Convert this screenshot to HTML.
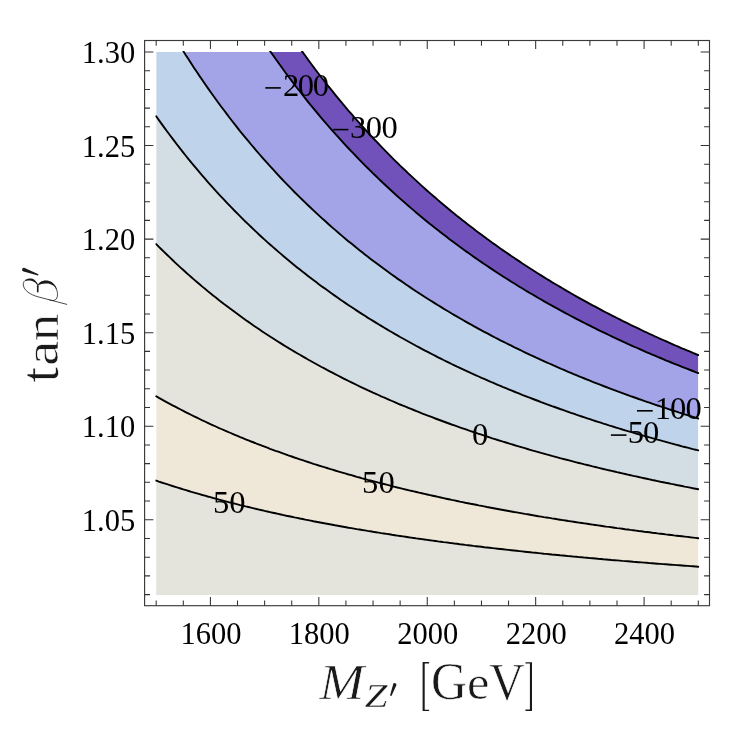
<!DOCTYPE html>
<html><head><meta charset="utf-8"><title>Contour plot</title>
<style>
html,body{margin:0;padding:0;background:#fff;}
body{width:747px;height:741px;overflow:hidden;font-family:"Liberation Serif",serif;}
svg{display:block;position:absolute;left:0;top:0;will-change:transform;}
svg text{font-family:"Liberation Serif",serif;}
</style></head><body>
<svg width="747" height="741" viewBox="0 0 747 741">
<defs><clipPath id="pc"><rect x="156.2" y="52.0" width="542.1" height="543.0"/></clipPath><clipPath id="lc"><rect x="155.2" y="51.0" width="544.1" height="544.6"/></clipPath></defs>
<rect x="0" y="0" width="747" height="741" fill="#fff"/>
<g clip-path="url(#pc)">
<path d="M151.2,599.6 L703.3,599.6 L698.3,566.7 L695.6,566.5 L692.9,566.3 L690.2,566.1 L687.5,565.9 L684.7,565.7 L682.0,565.5 L679.3,565.3 L676.6,565.1 L673.9,564.9 L671.2,564.7 L668.5,564.5 L665.8,564.3 L663.1,564.1 L660.4,563.9 L657.6,563.7 L654.9,563.5 L652.2,563.3 L649.5,563.1 L646.8,562.8 L644.1,562.6 L641.4,562.4 L638.7,562.2 L636.0,562.0 L633.2,561.8 L630.5,561.5 L627.8,561.3 L625.1,561.1 L622.4,560.9 L619.7,560.6 L617.0,560.4 L614.3,560.2 L611.6,560.0 L608.9,559.7 L606.1,559.5 L603.4,559.3 L600.7,559.0 L598.0,558.8 L595.3,558.5 L592.6,558.3 L589.9,558.1 L587.2,557.8 L584.5,557.6 L581.7,557.3 L579.0,557.1 L576.3,556.8 L573.6,556.6 L570.9,556.3 L568.2,556.1 L565.5,555.8 L562.8,555.5 L560.1,555.3 L557.4,555.0 L554.6,554.7 L551.9,554.5 L549.2,554.2 L546.5,553.9 L543.8,553.7 L541.1,553.4 L538.4,553.1 L535.7,552.8 L533.0,552.6 L530.2,552.3 L527.5,552.0 L524.8,551.7 L522.1,551.4 L519.4,551.1 L516.7,550.8 L514.0,550.5 L511.3,550.2 L508.6,549.9 L505.9,549.6 L503.1,549.3 L500.4,549.0 L497.7,548.7 L495.0,548.4 L492.3,548.1 L489.6,547.8 L486.9,547.5 L484.2,547.2 L481.5,546.8 L478.7,546.5 L476.0,546.2 L473.3,545.9 L470.6,545.5 L467.9,545.2 L465.2,544.9 L462.5,544.5 L459.8,544.2 L457.1,543.8 L454.4,543.5 L451.6,543.1 L448.9,542.8 L446.2,542.4 L443.5,542.1 L440.8,541.7 L438.1,541.4 L435.4,541.0 L432.7,540.6 L430.0,540.3 L427.2,539.9 L424.5,539.5 L421.8,539.1 L419.1,538.7 L416.4,538.4 L413.7,538.0 L411.0,537.6 L408.3,537.2 L405.6,536.8 L402.9,536.4 L400.1,536.0 L397.4,535.6 L394.7,535.2 L392.0,534.8 L389.3,534.3 L386.6,533.9 L383.9,533.5 L381.2,533.1 L378.5,532.6 L375.8,532.2 L373.0,531.8 L370.3,531.3 L367.6,530.9 L364.9,530.4 L362.2,530.0 L359.5,529.5 L356.8,529.1 L354.1,528.6 L351.4,528.1 L348.6,527.7 L345.9,527.2 L343.2,526.7 L340.5,526.2 L337.8,525.7 L335.1,525.3 L332.4,524.8 L329.7,524.3 L327.0,523.8 L324.3,523.3 L321.5,522.7 L318.8,522.2 L316.1,521.7 L313.4,521.2 L310.7,520.6 L308.0,520.1 L305.3,519.6 L302.6,519.0 L299.9,518.5 L297.1,517.9 L294.4,517.4 L291.7,516.8 L289.0,516.2 L286.3,515.7 L283.6,515.1 L280.9,514.5 L278.2,513.9 L275.5,513.3 L272.8,512.7 L270.0,512.1 L267.3,511.5 L264.6,510.9 L261.9,510.2 L259.2,509.6 L256.5,509.0 L253.8,508.3 L251.1,507.7 L248.4,507.0 L245.6,506.4 L242.9,505.7 L240.2,505.1 L237.5,504.4 L234.8,503.7 L232.1,503.0 L229.4,502.3 L226.7,501.6 L224.0,500.9 L221.3,500.2 L218.5,499.5 L215.8,498.7 L213.1,498.0 L210.4,497.2 L207.7,496.5 L205.0,495.7 L202.3,495.0 L199.6,494.2 L196.9,493.4 L194.1,492.6 L191.4,491.8 L188.7,491.0 L186.0,490.2 L183.3,489.4 L180.6,488.5 L177.9,487.7 L175.2,486.8 L172.5,486.0 L169.8,485.1 L167.0,484.2 L164.3,483.3 L161.6,482.5 L158.9,481.6 L156.2,480.6 Z" fill="#e4e4dc"/>
<path d="M156.2,480.6 L158.9,481.6 L161.6,482.5 L164.3,483.3 L167.0,484.2 L169.8,485.1 L172.5,486.0 L175.2,486.8 L177.9,487.7 L180.6,488.5 L183.3,489.4 L186.0,490.2 L188.7,491.0 L191.4,491.8 L194.1,492.6 L196.9,493.4 L199.6,494.2 L202.3,495.0 L205.0,495.7 L207.7,496.5 L210.4,497.2 L213.1,498.0 L215.8,498.7 L218.5,499.5 L221.3,500.2 L224.0,500.9 L226.7,501.6 L229.4,502.3 L232.1,503.0 L234.8,503.7 L237.5,504.4 L240.2,505.1 L242.9,505.7 L245.6,506.4 L248.4,507.0 L251.1,507.7 L253.8,508.3 L256.5,509.0 L259.2,509.6 L261.9,510.2 L264.6,510.9 L267.3,511.5 L270.0,512.1 L272.8,512.7 L275.5,513.3 L278.2,513.9 L280.9,514.5 L283.6,515.1 L286.3,515.7 L289.0,516.2 L291.7,516.8 L294.4,517.4 L297.1,517.9 L299.9,518.5 L302.6,519.0 L305.3,519.6 L308.0,520.1 L310.7,520.6 L313.4,521.2 L316.1,521.7 L318.8,522.2 L321.5,522.7 L324.3,523.3 L327.0,523.8 L329.7,524.3 L332.4,524.8 L335.1,525.3 L337.8,525.7 L340.5,526.2 L343.2,526.7 L345.9,527.2 L348.6,527.7 L351.4,528.1 L354.1,528.6 L356.8,529.1 L359.5,529.5 L362.2,530.0 L364.9,530.4 L367.6,530.9 L370.3,531.3 L373.0,531.8 L375.8,532.2 L378.5,532.6 L381.2,533.1 L383.9,533.5 L386.6,533.9 L389.3,534.3 L392.0,534.8 L394.7,535.2 L397.4,535.6 L400.1,536.0 L402.9,536.4 L405.6,536.8 L408.3,537.2 L411.0,537.6 L413.7,538.0 L416.4,538.4 L419.1,538.7 L421.8,539.1 L424.5,539.5 L427.2,539.9 L430.0,540.3 L432.7,540.6 L435.4,541.0 L438.1,541.4 L440.8,541.7 L443.5,542.1 L446.2,542.4 L448.9,542.8 L451.6,543.1 L454.4,543.5 L457.1,543.8 L459.8,544.2 L462.5,544.5 L465.2,544.9 L467.9,545.2 L470.6,545.5 L473.3,545.9 L476.0,546.2 L478.7,546.5 L481.5,546.8 L484.2,547.2 L486.9,547.5 L489.6,547.8 L492.3,548.1 L495.0,548.4 L497.7,548.7 L500.4,549.0 L503.1,549.3 L505.9,549.6 L508.6,549.9 L511.3,550.2 L514.0,550.5 L516.7,550.8 L519.4,551.1 L522.1,551.4 L524.8,551.7 L527.5,552.0 L530.2,552.3 L533.0,552.6 L535.7,552.8 L538.4,553.1 L541.1,553.4 L543.8,553.7 L546.5,553.9 L549.2,554.2 L551.9,554.5 L554.6,554.7 L557.4,555.0 L560.1,555.3 L562.8,555.5 L565.5,555.8 L568.2,556.1 L570.9,556.3 L573.6,556.6 L576.3,556.8 L579.0,557.1 L581.7,557.3 L584.5,557.6 L587.2,557.8 L589.9,558.1 L592.6,558.3 L595.3,558.5 L598.0,558.8 L600.7,559.0 L603.4,559.3 L606.1,559.5 L608.9,559.7 L611.6,560.0 L614.3,560.2 L617.0,560.4 L619.7,560.6 L622.4,560.9 L625.1,561.1 L627.8,561.3 L630.5,561.5 L633.2,561.8 L636.0,562.0 L638.7,562.2 L641.4,562.4 L644.1,562.6 L646.8,562.8 L649.5,563.1 L652.2,563.3 L654.9,563.5 L657.6,563.7 L660.4,563.9 L663.1,564.1 L665.8,564.3 L668.5,564.5 L671.2,564.7 L673.9,564.9 L676.6,565.1 L679.3,565.3 L682.0,565.5 L684.7,565.7 L687.5,565.9 L690.2,566.1 L692.9,566.3 L695.6,566.5 L698.3,566.7 L698.3,538.2 L695.6,537.9 L692.9,537.6 L690.2,537.3 L687.5,536.9 L684.7,536.6 L682.0,536.3 L679.3,536.0 L676.6,535.7 L673.9,535.4 L671.2,535.0 L668.5,534.7 L665.8,534.4 L663.1,534.0 L660.4,533.7 L657.6,533.4 L654.9,533.0 L652.2,532.7 L649.5,532.3 L646.8,532.0 L644.1,531.7 L641.4,531.3 L638.7,531.0 L636.0,530.6 L633.2,530.2 L630.5,529.9 L627.8,529.5 L625.1,529.2 L622.4,528.8 L619.7,528.4 L617.0,528.1 L614.3,527.7 L611.6,527.3 L608.9,526.9 L606.1,526.6 L603.4,526.2 L600.7,525.8 L598.0,525.4 L595.3,525.0 L592.6,524.6 L589.9,524.2 L587.2,523.8 L584.5,523.4 L581.7,523.0 L579.0,522.6 L576.3,522.2 L573.6,521.8 L570.9,521.4 L568.2,521.0 L565.5,520.5 L562.8,520.1 L560.1,519.7 L557.4,519.3 L554.6,518.8 L551.9,518.4 L549.2,517.9 L546.5,517.5 L543.8,517.1 L541.1,516.6 L538.4,516.2 L535.7,515.7 L533.0,515.3 L530.2,514.8 L527.5,514.3 L524.8,513.9 L522.1,513.4 L519.4,512.9 L516.7,512.4 L514.0,512.0 L511.3,511.5 L508.6,511.0 L505.9,510.5 L503.1,510.0 L500.4,509.5 L497.7,509.0 L495.0,508.5 L492.3,508.0 L489.6,507.5 L486.9,507.0 L484.2,506.4 L481.5,505.9 L478.7,505.4 L476.0,504.8 L473.3,504.3 L470.6,503.8 L467.9,503.2 L465.2,502.7 L462.5,502.1 L459.8,501.6 L457.1,501.0 L454.4,500.4 L451.6,499.9 L448.9,499.3 L446.2,498.7 L443.5,498.1 L440.8,497.5 L438.1,496.9 L435.4,496.3 L432.7,495.7 L430.0,495.1 L427.2,494.5 L424.5,493.9 L421.8,493.3 L419.1,492.7 L416.4,492.0 L413.7,491.4 L411.0,490.8 L408.3,490.1 L405.6,489.5 L402.9,488.8 L400.1,488.1 L397.4,487.5 L394.7,486.8 L392.0,486.1 L389.3,485.4 L386.6,484.7 L383.9,484.0 L381.2,483.3 L378.5,482.6 L375.8,481.9 L373.0,481.2 L370.3,480.5 L367.6,479.8 L364.9,479.0 L362.2,478.3 L359.5,477.5 L356.8,476.8 L354.1,476.0 L351.4,475.2 L348.6,474.5 L345.9,473.7 L343.2,472.9 L340.5,472.1 L337.8,471.3 L335.1,470.5 L332.4,469.7 L329.7,468.9 L327.0,468.0 L324.3,467.2 L321.5,466.3 L318.8,465.5 L316.1,464.6 L313.4,463.8 L310.7,462.9 L308.0,462.0 L305.3,461.1 L302.6,460.2 L299.9,459.3 L297.1,458.4 L294.4,457.5 L291.7,456.5 L289.0,455.6 L286.3,454.6 L283.6,453.7 L280.9,452.7 L278.2,451.7 L275.5,450.8 L272.8,449.8 L270.0,448.8 L267.3,447.7 L264.6,446.7 L261.9,445.7 L259.2,444.6 L256.5,443.6 L253.8,442.5 L251.1,441.5 L248.4,440.4 L245.6,439.3 L242.9,438.2 L240.2,437.1 L237.5,435.9 L234.8,434.8 L232.1,433.7 L229.4,432.5 L226.7,431.3 L224.0,430.2 L221.3,429.0 L218.5,427.8 L215.8,426.5 L213.1,425.3 L210.4,424.1 L207.7,422.8 L205.0,421.5 L202.3,420.3 L199.6,419.0 L196.9,417.7 L194.1,416.3 L191.4,415.0 L188.7,413.7 L186.0,412.3 L183.3,410.9 L180.6,409.5 L177.9,408.1 L175.2,406.7 L172.5,405.3 L169.8,403.8 L167.0,402.3 L164.3,400.9 L161.6,399.4 L158.9,397.9 L156.2,396.3 Z" fill="#efe8d8"/>
<path d="M156.2,396.3 L158.9,397.9 L161.6,399.4 L164.3,400.9 L167.0,402.3 L169.8,403.8 L172.5,405.3 L175.2,406.7 L177.9,408.1 L180.6,409.5 L183.3,410.9 L186.0,412.3 L188.7,413.7 L191.4,415.0 L194.1,416.3 L196.9,417.7 L199.6,419.0 L202.3,420.3 L205.0,421.5 L207.7,422.8 L210.4,424.1 L213.1,425.3 L215.8,426.5 L218.5,427.8 L221.3,429.0 L224.0,430.2 L226.7,431.3 L229.4,432.5 L232.1,433.7 L234.8,434.8 L237.5,435.9 L240.2,437.1 L242.9,438.2 L245.6,439.3 L248.4,440.4 L251.1,441.5 L253.8,442.5 L256.5,443.6 L259.2,444.6 L261.9,445.7 L264.6,446.7 L267.3,447.7 L270.0,448.8 L272.8,449.8 L275.5,450.8 L278.2,451.7 L280.9,452.7 L283.6,453.7 L286.3,454.6 L289.0,455.6 L291.7,456.5 L294.4,457.5 L297.1,458.4 L299.9,459.3 L302.6,460.2 L305.3,461.1 L308.0,462.0 L310.7,462.9 L313.4,463.8 L316.1,464.6 L318.8,465.5 L321.5,466.3 L324.3,467.2 L327.0,468.0 L329.7,468.9 L332.4,469.7 L335.1,470.5 L337.8,471.3 L340.5,472.1 L343.2,472.9 L345.9,473.7 L348.6,474.5 L351.4,475.2 L354.1,476.0 L356.8,476.8 L359.5,477.5 L362.2,478.3 L364.9,479.0 L367.6,479.8 L370.3,480.5 L373.0,481.2 L375.8,481.9 L378.5,482.6 L381.2,483.3 L383.9,484.0 L386.6,484.7 L389.3,485.4 L392.0,486.1 L394.7,486.8 L397.4,487.5 L400.1,488.1 L402.9,488.8 L405.6,489.5 L408.3,490.1 L411.0,490.8 L413.7,491.4 L416.4,492.0 L419.1,492.7 L421.8,493.3 L424.5,493.9 L427.2,494.5 L430.0,495.1 L432.7,495.7 L435.4,496.3 L438.1,496.9 L440.8,497.5 L443.5,498.1 L446.2,498.7 L448.9,499.3 L451.6,499.9 L454.4,500.4 L457.1,501.0 L459.8,501.6 L462.5,502.1 L465.2,502.7 L467.9,503.2 L470.6,503.8 L473.3,504.3 L476.0,504.8 L478.7,505.4 L481.5,505.9 L484.2,506.4 L486.9,507.0 L489.6,507.5 L492.3,508.0 L495.0,508.5 L497.7,509.0 L500.4,509.5 L503.1,510.0 L505.9,510.5 L508.6,511.0 L511.3,511.5 L514.0,512.0 L516.7,512.4 L519.4,512.9 L522.1,513.4 L524.8,513.9 L527.5,514.3 L530.2,514.8 L533.0,515.3 L535.7,515.7 L538.4,516.2 L541.1,516.6 L543.8,517.1 L546.5,517.5 L549.2,517.9 L551.9,518.4 L554.6,518.8 L557.4,519.3 L560.1,519.7 L562.8,520.1 L565.5,520.5 L568.2,521.0 L570.9,521.4 L573.6,521.8 L576.3,522.2 L579.0,522.6 L581.7,523.0 L584.5,523.4 L587.2,523.8 L589.9,524.2 L592.6,524.6 L595.3,525.0 L598.0,525.4 L600.7,525.8 L603.4,526.2 L606.1,526.6 L608.9,526.9 L611.6,527.3 L614.3,527.7 L617.0,528.1 L619.7,528.4 L622.4,528.8 L625.1,529.2 L627.8,529.5 L630.5,529.9 L633.2,530.2 L636.0,530.6 L638.7,531.0 L641.4,531.3 L644.1,531.7 L646.8,532.0 L649.5,532.3 L652.2,532.7 L654.9,533.0 L657.6,533.4 L660.4,533.7 L663.1,534.0 L665.8,534.4 L668.5,534.7 L671.2,535.0 L673.9,535.4 L676.6,535.7 L679.3,536.0 L682.0,536.3 L684.7,536.6 L687.5,536.9 L690.2,537.3 L692.9,537.6 L695.6,537.9 L698.3,538.2 L698.3,489.2 L695.6,488.7 L692.9,488.2 L690.2,487.6 L687.5,487.1 L684.7,486.6 L682.0,486.0 L679.3,485.5 L676.6,485.0 L673.9,484.4 L671.2,483.9 L668.5,483.3 L665.8,482.8 L663.1,482.2 L660.4,481.7 L657.6,481.1 L654.9,480.5 L652.2,480.0 L649.5,479.4 L646.8,478.8 L644.1,478.2 L641.4,477.6 L638.7,477.0 L636.0,476.4 L633.2,475.9 L630.5,475.2 L627.8,474.6 L625.1,474.0 L622.4,473.4 L619.7,472.8 L617.0,472.2 L614.3,471.5 L611.6,470.9 L608.9,470.3 L606.1,469.6 L603.4,469.0 L600.7,468.3 L598.0,467.7 L595.3,467.0 L592.6,466.4 L589.9,465.7 L587.2,465.0 L584.5,464.4 L581.7,463.7 L579.0,463.0 L576.3,462.3 L573.6,461.6 L570.9,460.9 L568.2,460.2 L565.5,459.5 L562.8,458.8 L560.1,458.1 L557.4,457.3 L554.6,456.6 L551.9,455.9 L549.2,455.1 L546.5,454.4 L543.8,453.6 L541.1,452.9 L538.4,452.1 L535.7,451.3 L533.0,450.6 L530.2,449.8 L527.5,449.0 L524.8,448.2 L522.1,447.4 L519.4,446.6 L516.7,445.8 L514.0,445.0 L511.3,444.2 L508.6,443.3 L505.9,442.5 L503.1,441.7 L500.4,440.8 L497.7,440.0 L495.0,439.1 L492.3,438.3 L489.6,437.4 L486.9,436.5 L484.2,435.6 L481.5,434.7 L478.7,433.8 L476.0,432.9 L473.3,432.0 L470.6,431.1 L467.9,430.2 L465.2,429.2 L462.5,428.3 L459.8,427.4 L457.1,426.4 L454.4,425.4 L451.6,424.5 L448.9,423.5 L446.2,422.5 L443.5,421.5 L440.8,420.5 L438.1,419.5 L435.4,418.5 L432.7,417.4 L430.0,416.4 L427.2,415.4 L424.5,414.3 L421.8,413.3 L419.1,412.2 L416.4,411.1 L413.7,410.0 L411.0,408.9 L408.3,407.8 L405.6,406.7 L402.9,405.6 L400.1,404.5 L397.4,403.3 L394.7,402.2 L392.0,401.0 L389.3,399.8 L386.6,398.6 L383.9,397.5 L381.2,396.3 L378.5,395.0 L375.8,393.8 L373.0,392.6 L370.3,391.3 L367.6,390.1 L364.9,388.8 L362.2,387.6 L359.5,386.3 L356.8,385.0 L354.1,383.7 L351.4,382.3 L348.6,381.0 L345.9,379.7 L343.2,378.3 L340.5,376.9 L337.8,375.5 L335.1,374.2 L332.4,372.7 L329.7,371.3 L327.0,369.9 L324.3,368.4 L321.5,367.0 L318.8,365.5 L316.1,364.0 L313.4,362.5 L310.7,361.0 L308.0,359.5 L305.3,357.9 L302.6,356.4 L299.9,354.8 L297.1,353.2 L294.4,351.6 L291.7,350.0 L289.0,348.4 L286.3,346.7 L283.6,345.1 L280.9,343.4 L278.2,341.7 L275.5,340.0 L272.8,338.3 L270.0,336.5 L267.3,334.7 L264.6,333.0 L261.9,331.2 L259.2,329.3 L256.5,327.5 L253.8,325.7 L251.1,323.8 L248.4,321.9 L245.6,320.0 L242.9,318.1 L240.2,316.1 L237.5,314.1 L234.8,312.1 L232.1,310.1 L229.4,308.1 L226.7,306.0 L224.0,304.0 L221.3,301.9 L218.5,299.8 L215.8,297.6 L213.1,295.5 L210.4,293.3 L207.7,291.1 L205.0,288.8 L202.3,286.6 L199.6,284.3 L196.9,282.0 L194.1,279.6 L191.4,277.3 L188.7,274.9 L186.0,272.5 L183.3,270.0 L180.6,267.6 L177.9,265.1 L175.2,262.6 L172.5,260.0 L169.8,257.4 L167.0,254.8 L164.3,252.2 L161.6,249.5 L158.9,246.8 L156.2,244.1 Z" fill="#e4e4dc"/>
<path d="M156.2,244.1 L158.9,246.8 L161.6,249.5 L164.3,252.2 L167.0,254.8 L169.8,257.4 L172.5,260.0 L175.2,262.6 L177.9,265.1 L180.6,267.6 L183.3,270.0 L186.0,272.5 L188.7,274.9 L191.4,277.3 L194.1,279.6 L196.9,282.0 L199.6,284.3 L202.3,286.6 L205.0,288.8 L207.7,291.1 L210.4,293.3 L213.1,295.5 L215.8,297.6 L218.5,299.8 L221.3,301.9 L224.0,304.0 L226.7,306.0 L229.4,308.1 L232.1,310.1 L234.8,312.1 L237.5,314.1 L240.2,316.1 L242.9,318.1 L245.6,320.0 L248.4,321.9 L251.1,323.8 L253.8,325.7 L256.5,327.5 L259.2,329.3 L261.9,331.2 L264.6,333.0 L267.3,334.7 L270.0,336.5 L272.8,338.3 L275.5,340.0 L278.2,341.7 L280.9,343.4 L283.6,345.1 L286.3,346.7 L289.0,348.4 L291.7,350.0 L294.4,351.6 L297.1,353.2 L299.9,354.8 L302.6,356.4 L305.3,357.9 L308.0,359.5 L310.7,361.0 L313.4,362.5 L316.1,364.0 L318.8,365.5 L321.5,367.0 L324.3,368.4 L327.0,369.9 L329.7,371.3 L332.4,372.7 L335.1,374.2 L337.8,375.5 L340.5,376.9 L343.2,378.3 L345.9,379.7 L348.6,381.0 L351.4,382.3 L354.1,383.7 L356.8,385.0 L359.5,386.3 L362.2,387.6 L364.9,388.8 L367.6,390.1 L370.3,391.3 L373.0,392.6 L375.8,393.8 L378.5,395.0 L381.2,396.3 L383.9,397.5 L386.6,398.6 L389.3,399.8 L392.0,401.0 L394.7,402.2 L397.4,403.3 L400.1,404.5 L402.9,405.6 L405.6,406.7 L408.3,407.8 L411.0,408.9 L413.7,410.0 L416.4,411.1 L419.1,412.2 L421.8,413.3 L424.5,414.3 L427.2,415.4 L430.0,416.4 L432.7,417.4 L435.4,418.5 L438.1,419.5 L440.8,420.5 L443.5,421.5 L446.2,422.5 L448.9,423.5 L451.6,424.5 L454.4,425.4 L457.1,426.4 L459.8,427.4 L462.5,428.3 L465.2,429.2 L467.9,430.2 L470.6,431.1 L473.3,432.0 L476.0,432.9 L478.7,433.8 L481.5,434.7 L484.2,435.6 L486.9,436.5 L489.6,437.4 L492.3,438.3 L495.0,439.1 L497.7,440.0 L500.4,440.8 L503.1,441.7 L505.9,442.5 L508.6,443.3 L511.3,444.2 L514.0,445.0 L516.7,445.8 L519.4,446.6 L522.1,447.4 L524.8,448.2 L527.5,449.0 L530.2,449.8 L533.0,450.6 L535.7,451.3 L538.4,452.1 L541.1,452.9 L543.8,453.6 L546.5,454.4 L549.2,455.1 L551.9,455.9 L554.6,456.6 L557.4,457.3 L560.1,458.1 L562.8,458.8 L565.5,459.5 L568.2,460.2 L570.9,460.9 L573.6,461.6 L576.3,462.3 L579.0,463.0 L581.7,463.7 L584.5,464.4 L587.2,465.0 L589.9,465.7 L592.6,466.4 L595.3,467.0 L598.0,467.7 L600.7,468.3 L603.4,469.0 L606.1,469.6 L608.9,470.3 L611.6,470.9 L614.3,471.5 L617.0,472.2 L619.7,472.8 L622.4,473.4 L625.1,474.0 L627.8,474.6 L630.5,475.2 L633.2,475.9 L636.0,476.4 L638.7,477.0 L641.4,477.6 L644.1,478.2 L646.8,478.8 L649.5,479.4 L652.2,480.0 L654.9,480.5 L657.6,481.1 L660.4,481.7 L663.1,482.2 L665.8,482.8 L668.5,483.3 L671.2,483.9 L673.9,484.4 L676.6,485.0 L679.3,485.5 L682.0,486.0 L684.7,486.6 L687.5,487.1 L690.2,487.6 L692.9,488.2 L695.6,488.7 L698.3,489.2 L698.3,450.4 L695.6,449.7 L692.9,449.1 L690.2,448.4 L687.5,447.7 L684.7,447.0 L682.0,446.3 L679.3,445.5 L676.6,444.8 L673.9,444.1 L671.2,443.4 L668.5,442.6 L665.8,441.9 L663.1,441.2 L660.4,440.4 L657.6,439.7 L654.9,438.9 L652.2,438.2 L649.5,437.4 L646.8,436.6 L644.1,435.9 L641.4,435.1 L638.7,434.3 L636.0,433.5 L633.2,432.7 L630.5,431.9 L627.8,431.1 L625.1,430.3 L622.4,429.5 L619.7,428.6 L617.0,427.8 L614.3,427.0 L611.6,426.1 L608.9,425.3 L606.1,424.4 L603.4,423.6 L600.7,422.7 L598.0,421.8 L595.3,421.0 L592.6,420.1 L589.9,419.2 L587.2,418.3 L584.5,417.4 L581.7,416.5 L579.0,415.6 L576.3,414.7 L573.6,413.7 L570.9,412.8 L568.2,411.8 L565.5,410.9 L562.8,409.9 L560.1,409.0 L557.4,408.0 L554.6,407.0 L551.9,406.1 L549.2,405.1 L546.5,404.1 L543.8,403.1 L541.1,402.1 L538.4,401.0 L535.7,400.0 L533.0,399.0 L530.2,397.9 L527.5,396.9 L524.8,395.8 L522.1,394.8 L519.4,393.7 L516.7,392.6 L514.0,391.5 L511.3,390.4 L508.6,389.3 L505.9,388.2 L503.1,387.1 L500.4,385.9 L497.7,384.8 L495.0,383.6 L492.3,382.5 L489.6,381.3 L486.9,380.1 L484.2,378.9 L481.5,377.8 L478.7,376.5 L476.0,375.3 L473.3,374.1 L470.6,372.9 L467.9,371.6 L465.2,370.4 L462.5,369.1 L459.8,367.8 L457.1,366.6 L454.4,365.3 L451.6,364.0 L448.9,362.6 L446.2,361.3 L443.5,360.0 L440.8,358.6 L438.1,357.3 L435.4,355.9 L432.7,354.5 L430.0,353.1 L427.2,351.7 L424.5,350.3 L421.8,348.9 L419.1,347.4 L416.4,346.0 L413.7,344.5 L411.0,343.0 L408.3,341.5 L405.6,340.0 L402.9,338.5 L400.1,337.0 L397.4,335.4 L394.7,333.9 L392.0,332.3 L389.3,330.7 L386.6,329.1 L383.9,327.5 L381.2,325.9 L378.5,324.3 L375.8,322.6 L373.0,320.9 L370.3,319.2 L367.6,317.6 L364.9,315.8 L362.2,314.1 L359.5,312.4 L356.8,310.6 L354.1,308.8 L351.4,307.0 L348.6,305.2 L345.9,303.4 L343.2,301.5 L340.5,299.7 L337.8,297.8 L335.1,295.9 L332.4,294.0 L329.7,292.1 L327.0,290.1 L324.3,288.1 L321.5,286.2 L318.8,284.2 L316.1,282.1 L313.4,280.1 L310.7,278.0 L308.0,275.9 L305.3,273.8 L302.6,271.7 L299.9,269.6 L297.1,267.4 L294.4,265.2 L291.7,263.0 L289.0,260.8 L286.3,258.5 L283.6,256.2 L280.9,253.9 L278.2,251.6 L275.5,249.3 L272.8,246.9 L270.0,244.5 L267.3,242.1 L264.6,239.6 L261.9,237.2 L259.2,234.7 L256.5,232.1 L253.8,229.6 L251.1,227.0 L248.4,224.4 L245.6,221.8 L242.9,219.1 L240.2,216.4 L237.5,213.7 L234.8,211.0 L232.1,208.2 L229.4,205.4 L226.7,202.6 L224.0,199.7 L221.3,196.8 L218.5,193.9 L215.8,190.9 L213.1,187.9 L210.4,184.9 L207.7,181.8 L205.0,178.7 L202.3,175.6 L199.6,172.4 L196.9,169.2 L194.1,165.9 L191.4,162.7 L188.7,159.3 L186.0,156.0 L183.3,152.6 L180.6,149.1 L177.9,145.7 L175.2,142.1 L172.5,138.6 L169.8,135.0 L167.0,131.3 L164.3,127.6 L161.6,123.9 L158.9,120.1 L156.2,116.2 Z" fill="#d3dde4"/>
<path d="M156.2,116.2 L158.9,120.1 L161.6,123.9 L164.3,127.6 L167.0,131.3 L169.8,135.0 L172.5,138.6 L175.2,142.1 L177.9,145.7 L180.6,149.1 L183.3,152.6 L186.0,156.0 L188.7,159.3 L191.4,162.7 L194.1,165.9 L196.9,169.2 L199.6,172.4 L202.3,175.6 L205.0,178.7 L207.7,181.8 L210.4,184.9 L213.1,187.9 L215.8,190.9 L218.5,193.9 L221.3,196.8 L224.0,199.7 L226.7,202.6 L229.4,205.4 L232.1,208.2 L234.8,211.0 L237.5,213.7 L240.2,216.4 L242.9,219.1 L245.6,221.8 L248.4,224.4 L251.1,227.0 L253.8,229.6 L256.5,232.1 L259.2,234.7 L261.9,237.2 L264.6,239.6 L267.3,242.1 L270.0,244.5 L272.8,246.9 L275.5,249.3 L278.2,251.6 L280.9,253.9 L283.6,256.2 L286.3,258.5 L289.0,260.8 L291.7,263.0 L294.4,265.2 L297.1,267.4 L299.9,269.6 L302.6,271.7 L305.3,273.8 L308.0,275.9 L310.7,278.0 L313.4,280.1 L316.1,282.1 L318.8,284.2 L321.5,286.2 L324.3,288.1 L327.0,290.1 L329.7,292.1 L332.4,294.0 L335.1,295.9 L337.8,297.8 L340.5,299.7 L343.2,301.5 L345.9,303.4 L348.6,305.2 L351.4,307.0 L354.1,308.8 L356.8,310.6 L359.5,312.4 L362.2,314.1 L364.9,315.8 L367.6,317.6 L370.3,319.2 L373.0,320.9 L375.8,322.6 L378.5,324.3 L381.2,325.9 L383.9,327.5 L386.6,329.1 L389.3,330.7 L392.0,332.3 L394.7,333.9 L397.4,335.4 L400.1,337.0 L402.9,338.5 L405.6,340.0 L408.3,341.5 L411.0,343.0 L413.7,344.5 L416.4,346.0 L419.1,347.4 L421.8,348.9 L424.5,350.3 L427.2,351.7 L430.0,353.1 L432.7,354.5 L435.4,355.9 L438.1,357.3 L440.8,358.6 L443.5,360.0 L446.2,361.3 L448.9,362.6 L451.6,364.0 L454.4,365.3 L457.1,366.6 L459.8,367.8 L462.5,369.1 L465.2,370.4 L467.9,371.6 L470.6,372.9 L473.3,374.1 L476.0,375.3 L478.7,376.5 L481.5,377.8 L484.2,378.9 L486.9,380.1 L489.6,381.3 L492.3,382.5 L495.0,383.6 L497.7,384.8 L500.4,385.9 L503.1,387.1 L505.9,388.2 L508.6,389.3 L511.3,390.4 L514.0,391.5 L516.7,392.6 L519.4,393.7 L522.1,394.8 L524.8,395.8 L527.5,396.9 L530.2,397.9 L533.0,399.0 L535.7,400.0 L538.4,401.0 L541.1,402.1 L543.8,403.1 L546.5,404.1 L549.2,405.1 L551.9,406.1 L554.6,407.0 L557.4,408.0 L560.1,409.0 L562.8,409.9 L565.5,410.9 L568.2,411.8 L570.9,412.8 L573.6,413.7 L576.3,414.7 L579.0,415.6 L581.7,416.5 L584.5,417.4 L587.2,418.3 L589.9,419.2 L592.6,420.1 L595.3,421.0 L598.0,421.8 L600.7,422.7 L603.4,423.6 L606.1,424.4 L608.9,425.3 L611.6,426.1 L614.3,427.0 L617.0,427.8 L619.7,428.6 L622.4,429.5 L625.1,430.3 L627.8,431.1 L630.5,431.9 L633.2,432.7 L636.0,433.5 L638.7,434.3 L641.4,435.1 L644.1,435.9 L646.8,436.6 L649.5,437.4 L652.2,438.2 L654.9,438.9 L657.6,439.7 L660.4,440.4 L663.1,441.2 L665.8,441.9 L668.5,442.6 L671.2,443.4 L673.9,444.1 L676.6,444.8 L679.3,445.5 L682.0,446.3 L684.7,447.0 L687.5,447.7 L690.2,448.4 L692.9,449.1 L695.6,449.7 L698.3,450.4 L698.3,418.5 L695.6,417.7 L692.9,416.8 L690.2,416.0 L687.5,415.1 L684.7,414.3 L682.0,413.4 L679.3,412.6 L676.6,411.7 L673.9,410.8 L671.2,410.0 L668.5,409.1 L665.8,408.2 L663.1,407.3 L660.4,406.4 L657.6,405.5 L654.9,404.6 L652.2,403.7 L649.5,402.7 L646.8,401.8 L644.1,400.9 L641.4,399.9 L638.7,399.0 L636.0,398.0 L633.2,397.0 L630.5,396.1 L627.8,395.1 L625.1,394.1 L622.4,393.1 L619.7,392.1 L617.0,391.1 L614.3,390.1 L611.6,389.1 L608.9,388.1 L606.1,387.0 L603.4,386.0 L600.7,384.9 L598.0,383.9 L595.3,382.8 L592.6,381.8 L589.9,380.7 L587.2,379.6 L584.5,378.5 L581.7,377.4 L579.0,376.3 L576.3,375.2 L573.6,374.1 L570.9,372.9 L568.2,371.8 L565.5,370.6 L562.8,369.5 L560.1,368.3 L557.4,367.1 L554.6,365.9 L551.9,364.7 L549.2,363.5 L546.5,362.3 L543.8,361.1 L541.1,359.9 L538.4,358.6 L535.7,357.4 L533.0,356.1 L530.2,354.9 L527.5,353.6 L524.8,352.3 L522.1,351.0 L519.4,349.7 L516.7,348.4 L514.0,347.1 L511.3,345.7 L508.6,344.4 L505.9,343.0 L503.1,341.6 L500.4,340.3 L497.7,338.9 L495.0,337.5 L492.3,336.1 L489.6,334.6 L486.9,333.2 L484.2,331.8 L481.5,330.3 L478.7,328.8 L476.0,327.3 L473.3,325.9 L470.6,324.3 L467.9,322.8 L465.2,321.3 L462.5,319.8 L459.8,318.2 L457.1,316.6 L454.4,315.1 L451.6,313.5 L448.9,311.8 L446.2,310.2 L443.5,308.6 L440.8,306.9 L438.1,305.3 L435.4,303.6 L432.7,301.9 L430.0,300.2 L427.2,298.5 L424.5,296.8 L421.8,295.0 L419.1,293.2 L416.4,291.5 L413.7,289.7 L411.0,287.9 L408.3,286.0 L405.6,284.2 L402.9,282.3 L400.1,280.4 L397.4,278.6 L394.7,276.6 L392.0,274.7 L389.3,272.8 L386.6,270.8 L383.9,268.8 L381.2,266.8 L378.5,264.8 L375.8,262.8 L373.0,260.7 L370.3,258.7 L367.6,256.6 L364.9,254.5 L362.2,252.3 L359.5,250.2 L356.8,248.0 L354.1,245.8 L351.4,243.6 L348.6,241.4 L345.9,239.2 L343.2,236.9 L340.5,234.6 L337.8,232.3 L335.1,229.9 L332.4,227.6 L329.7,225.2 L327.0,222.8 L324.3,220.3 L321.5,217.9 L318.8,215.4 L316.1,212.9 L313.4,210.4 L310.7,207.8 L308.0,205.2 L305.3,202.6 L302.6,200.0 L299.9,197.4 L297.1,194.7 L294.4,192.0 L291.7,189.2 L289.0,186.4 L286.3,183.6 L283.6,180.8 L280.9,178.0 L278.2,175.1 L275.5,172.2 L272.8,169.2 L270.0,166.2 L267.3,163.2 L264.6,160.2 L261.9,157.1 L259.2,154.0 L256.5,150.9 L253.8,147.7 L251.1,144.5 L248.4,141.2 L245.6,137.9 L242.9,134.6 L240.2,131.3 L237.5,127.9 L234.8,124.4 L232.1,121.0 L229.4,117.5 L226.7,113.9 L224.0,110.3 L221.3,106.7 L218.5,103.0 L215.8,99.3 L213.1,95.5 L210.4,91.7 L207.7,87.9 L205.0,84.0 L202.3,80.0 L199.6,76.1 L196.9,72.0 L194.1,67.9 L191.4,63.8 L188.7,59.6 L186.0,55.4 L183.3,51.1 L180.6,46.7 L177.9,42.3 L175.2,37.9 L172.5,33.4 L169.8,28.8 L167.0,24.2 L164.3,19.5 L161.6,14.8 L158.9,9.9 L156.2,5.1 Z" fill="#bfd3ea"/>
<path d="M156.2,5.1 L158.9,9.9 L161.6,14.8 L164.3,19.5 L167.0,24.2 L169.8,28.8 L172.5,33.4 L175.2,37.9 L177.9,42.3 L180.6,46.7 L183.3,51.1 L186.0,55.4 L188.7,59.6 L191.4,63.8 L194.1,67.9 L196.9,72.0 L199.6,76.1 L202.3,80.0 L205.0,84.0 L207.7,87.9 L210.4,91.7 L213.1,95.5 L215.8,99.3 L218.5,103.0 L221.3,106.7 L224.0,110.3 L226.7,113.9 L229.4,117.5 L232.1,121.0 L234.8,124.4 L237.5,127.9 L240.2,131.3 L242.9,134.6 L245.6,137.9 L248.4,141.2 L251.1,144.5 L253.8,147.7 L256.5,150.9 L259.2,154.0 L261.9,157.1 L264.6,160.2 L267.3,163.2 L270.0,166.2 L272.8,169.2 L275.5,172.2 L278.2,175.1 L280.9,178.0 L283.6,180.8 L286.3,183.6 L289.0,186.4 L291.7,189.2 L294.4,192.0 L297.1,194.7 L299.9,197.4 L302.6,200.0 L305.3,202.6 L308.0,205.2 L310.7,207.8 L313.4,210.4 L316.1,212.9 L318.8,215.4 L321.5,217.9 L324.3,220.3 L327.0,222.8 L329.7,225.2 L332.4,227.6 L335.1,229.9 L337.8,232.3 L340.5,234.6 L343.2,236.9 L345.9,239.2 L348.6,241.4 L351.4,243.6 L354.1,245.8 L356.8,248.0 L359.5,250.2 L362.2,252.3 L364.9,254.5 L367.6,256.6 L370.3,258.7 L373.0,260.7 L375.8,262.8 L378.5,264.8 L381.2,266.8 L383.9,268.8 L386.6,270.8 L389.3,272.8 L392.0,274.7 L394.7,276.6 L397.4,278.6 L400.1,280.4 L402.9,282.3 L405.6,284.2 L408.3,286.0 L411.0,287.9 L413.7,289.7 L416.4,291.5 L419.1,293.2 L421.8,295.0 L424.5,296.8 L427.2,298.5 L430.0,300.2 L432.7,301.9 L435.4,303.6 L438.1,305.3 L440.8,306.9 L443.5,308.6 L446.2,310.2 L448.9,311.8 L451.6,313.5 L454.4,315.1 L457.1,316.6 L459.8,318.2 L462.5,319.8 L465.2,321.3 L467.9,322.8 L470.6,324.3 L473.3,325.9 L476.0,327.3 L478.7,328.8 L481.5,330.3 L484.2,331.8 L486.9,333.2 L489.6,334.6 L492.3,336.1 L495.0,337.5 L497.7,338.9 L500.4,340.3 L503.1,341.6 L505.9,343.0 L508.6,344.4 L511.3,345.7 L514.0,347.1 L516.7,348.4 L519.4,349.7 L522.1,351.0 L524.8,352.3 L527.5,353.6 L530.2,354.9 L533.0,356.1 L535.7,357.4 L538.4,358.6 L541.1,359.9 L543.8,361.1 L546.5,362.3 L549.2,363.5 L551.9,364.7 L554.6,365.9 L557.4,367.1 L560.1,368.3 L562.8,369.5 L565.5,370.6 L568.2,371.8 L570.9,372.9 L573.6,374.1 L576.3,375.2 L579.0,376.3 L581.7,377.4 L584.5,378.5 L587.2,379.6 L589.9,380.7 L592.6,381.8 L595.3,382.8 L598.0,383.9 L600.7,384.9 L603.4,386.0 L606.1,387.0 L608.9,388.1 L611.6,389.1 L614.3,390.1 L617.0,391.1 L619.7,392.1 L622.4,393.1 L625.1,394.1 L627.8,395.1 L630.5,396.1 L633.2,397.0 L636.0,398.0 L638.7,399.0 L641.4,399.9 L644.1,400.9 L646.8,401.8 L649.5,402.7 L652.2,403.7 L654.9,404.6 L657.6,405.5 L660.4,406.4 L663.1,407.3 L665.8,408.2 L668.5,409.1 L671.2,410.0 L673.9,410.8 L676.6,411.7 L679.3,412.6 L682.0,413.4 L684.7,414.3 L687.5,415.1 L690.2,416.0 L692.9,416.8 L695.6,417.7 L698.3,418.5 L698.3,373.1 L695.6,372.1 L692.9,371.0 L690.2,370.0 L687.5,368.9 L684.7,367.9 L682.0,366.8 L679.3,365.7 L676.6,364.7 L673.9,363.6 L671.2,362.5 L668.5,361.4 L665.8,360.3 L663.1,359.1 L660.4,358.0 L657.6,356.9 L654.9,355.7 L652.2,354.6 L649.5,353.4 L646.8,352.3 L644.1,351.1 L641.4,349.9 L638.7,348.7 L636.0,347.5 L633.2,346.3 L630.5,345.1 L627.8,343.9 L625.1,342.6 L622.4,341.4 L619.7,340.1 L617.0,338.9 L614.3,337.6 L611.6,336.3 L608.9,335.0 L606.1,333.7 L603.4,332.4 L600.7,331.1 L598.0,329.8 L595.3,328.4 L592.6,327.1 L589.9,325.7 L587.2,324.4 L584.5,323.0 L581.7,321.6 L579.0,320.2 L576.3,318.8 L573.6,317.4 L570.9,316.0 L568.2,314.5 L565.5,313.1 L562.8,311.6 L560.1,310.2 L557.4,308.7 L554.6,307.2 L551.9,305.7 L549.2,304.2 L546.5,302.6 L543.8,301.1 L541.1,299.5 L538.4,298.0 L535.7,296.4 L533.0,294.8 L530.2,293.2 L527.5,291.6 L524.8,290.0 L522.1,288.3 L519.4,286.7 L516.7,285.0 L514.0,283.3 L511.3,281.7 L508.6,279.9 L505.9,278.2 L503.1,276.5 L500.4,274.7 L497.7,273.0 L495.0,271.2 L492.3,269.4 L489.6,267.6 L486.9,265.8 L484.2,264.0 L481.5,262.1 L478.7,260.3 L476.0,258.4 L473.3,256.5 L470.6,254.6 L467.9,252.6 L465.2,250.7 L462.5,248.7 L459.8,246.8 L457.1,244.8 L454.4,242.8 L451.6,240.7 L448.9,238.7 L446.2,236.6 L443.5,234.5 L440.8,232.4 L438.1,230.3 L435.4,228.2 L432.7,226.0 L430.0,223.9 L427.2,221.7 L424.5,219.5 L421.8,217.2 L419.1,215.0 L416.4,212.7 L413.7,210.4 L411.0,208.1 L408.3,205.8 L405.6,203.4 L402.9,201.0 L400.1,198.6 L397.4,196.2 L394.7,193.8 L392.0,191.3 L389.3,188.8 L386.6,186.3 L383.9,183.8 L381.2,181.2 L378.5,178.6 L375.8,176.0 L373.0,173.4 L370.3,170.7 L367.6,168.0 L364.9,165.3 L362.2,162.6 L359.5,159.8 L356.8,157.0 L354.1,154.2 L351.4,151.4 L348.6,148.5 L345.9,145.6 L343.2,142.7 L340.5,139.7 L337.8,136.7 L335.1,133.7 L332.4,130.7 L329.7,127.6 L327.0,124.5 L324.3,121.3 L321.5,118.2 L318.8,114.9 L316.1,111.7 L313.4,108.4 L310.7,105.1 L308.0,101.8 L305.3,98.4 L302.6,95.0 L299.9,91.5 L297.1,88.0 L294.4,84.5 L291.7,80.9 L289.0,77.3 L286.3,73.7 L283.6,70.0 L280.9,66.3 L278.2,62.5 L275.5,58.7 L272.8,54.9 L270.0,51.0 L267.3,47.0 L264.6,43.1 L261.9,39.0 L259.2,35.0 L256.5,30.8 L253.8,26.7 L251.1,22.5 L248.4,18.2 L245.6,13.9 L242.9,9.5 L240.2,5.1 L237.5,0.6 L234.8,-3.9 L232.1,-8.5 L229.4,-13.1 L226.7,-17.8 L224.0,-22.5 L221.3,-27.3 L218.5,-32.2 L215.8,-37.1 L213.1,-42.1 L210.4,-47.2 L207.7,-52.3 L205.0,-57.5 L202.3,-62.7 L199.6,-68.0 L196.9,-73.4 L194.1,-78.8 L191.4,-84.4 L188.7,-89.9 L186.0,-95.6 L183.3,-101.4 L180.6,-107.2 L177.9,-113.1 L175.2,-119.1 L172.5,-125.1 L169.8,-131.3 L167.0,-137.5 L164.3,-143.8 L161.6,-150.2 L158.9,-156.7 L156.2,-163.3 Z" fill="#a3a3e8"/>
<path d="M156.2,-163.3 L158.9,-156.7 L161.6,-150.2 L164.3,-143.8 L167.0,-137.5 L169.8,-131.3 L172.5,-125.1 L175.2,-119.1 L177.9,-113.1 L180.6,-107.2 L183.3,-101.4 L186.0,-95.6 L188.7,-89.9 L191.4,-84.4 L194.1,-78.8 L196.9,-73.4 L199.6,-68.0 L202.3,-62.7 L205.0,-57.5 L207.7,-52.3 L210.4,-47.2 L213.1,-42.1 L215.8,-37.1 L218.5,-32.2 L221.3,-27.3 L224.0,-22.5 L226.7,-17.8 L229.4,-13.1 L232.1,-8.5 L234.8,-3.9 L237.5,0.6 L240.2,5.1 L242.9,9.5 L245.6,13.9 L248.4,18.2 L251.1,22.5 L253.8,26.7 L256.5,30.8 L259.2,35.0 L261.9,39.0 L264.6,43.1 L267.3,47.0 L270.0,51.0 L272.8,54.9 L275.5,58.7 L278.2,62.5 L280.9,66.3 L283.6,70.0 L286.3,73.7 L289.0,77.3 L291.7,80.9 L294.4,84.5 L297.1,88.0 L299.9,91.5 L302.6,95.0 L305.3,98.4 L308.0,101.8 L310.7,105.1 L313.4,108.4 L316.1,111.7 L318.8,114.9 L321.5,118.2 L324.3,121.3 L327.0,124.5 L329.7,127.6 L332.4,130.7 L335.1,133.7 L337.8,136.7 L340.5,139.7 L343.2,142.7 L345.9,145.6 L348.6,148.5 L351.4,151.4 L354.1,154.2 L356.8,157.0 L359.5,159.8 L362.2,162.6 L364.9,165.3 L367.6,168.0 L370.3,170.7 L373.0,173.4 L375.8,176.0 L378.5,178.6 L381.2,181.2 L383.9,183.8 L386.6,186.3 L389.3,188.8 L392.0,191.3 L394.7,193.8 L397.4,196.2 L400.1,198.6 L402.9,201.0 L405.6,203.4 L408.3,205.8 L411.0,208.1 L413.7,210.4 L416.4,212.7 L419.1,215.0 L421.8,217.2 L424.5,219.5 L427.2,221.7 L430.0,223.9 L432.7,226.0 L435.4,228.2 L438.1,230.3 L440.8,232.4 L443.5,234.5 L446.2,236.6 L448.9,238.7 L451.6,240.7 L454.4,242.8 L457.1,244.8 L459.8,246.8 L462.5,248.7 L465.2,250.7 L467.9,252.6 L470.6,254.6 L473.3,256.5 L476.0,258.4 L478.7,260.3 L481.5,262.1 L484.2,264.0 L486.9,265.8 L489.6,267.6 L492.3,269.4 L495.0,271.2 L497.7,273.0 L500.4,274.7 L503.1,276.5 L505.9,278.2 L508.6,279.9 L511.3,281.7 L514.0,283.3 L516.7,285.0 L519.4,286.7 L522.1,288.3 L524.8,290.0 L527.5,291.6 L530.2,293.2 L533.0,294.8 L535.7,296.4 L538.4,298.0 L541.1,299.5 L543.8,301.1 L546.5,302.6 L549.2,304.2 L551.9,305.7 L554.6,307.2 L557.4,308.7 L560.1,310.2 L562.8,311.6 L565.5,313.1 L568.2,314.5 L570.9,316.0 L573.6,317.4 L576.3,318.8 L579.0,320.2 L581.7,321.6 L584.5,323.0 L587.2,324.4 L589.9,325.7 L592.6,327.1 L595.3,328.4 L598.0,329.8 L600.7,331.1 L603.4,332.4 L606.1,333.7 L608.9,335.0 L611.6,336.3 L614.3,337.6 L617.0,338.9 L619.7,340.1 L622.4,341.4 L625.1,342.6 L627.8,343.9 L630.5,345.1 L633.2,346.3 L636.0,347.5 L638.7,348.7 L641.4,349.9 L644.1,351.1 L646.8,352.3 L649.5,353.4 L652.2,354.6 L654.9,355.7 L657.6,356.9 L660.4,358.0 L663.1,359.1 L665.8,360.3 L668.5,361.4 L671.2,362.5 L673.9,363.6 L676.6,364.7 L679.3,365.7 L682.0,366.8 L684.7,367.9 L687.5,368.9 L690.2,370.0 L692.9,371.0 L695.6,372.1 L698.3,373.1 L698.3,355.1 L695.6,354.0 L692.9,352.9 L690.2,351.7 L687.5,350.6 L684.7,349.4 L682.0,348.3 L679.3,347.1 L676.6,346.0 L673.9,344.8 L671.2,343.6 L668.5,342.4 L665.8,341.2 L663.1,340.0 L660.4,338.8 L657.6,337.5 L654.9,336.3 L652.2,335.0 L649.5,333.8 L646.8,332.5 L644.1,331.3 L641.4,330.0 L638.7,328.7 L636.0,327.4 L633.2,326.1 L630.5,324.8 L627.8,323.4 L625.1,322.1 L622.4,320.8 L619.7,319.4 L617.0,318.0 L614.3,316.7 L611.6,315.3 L608.9,313.9 L606.1,312.5 L603.4,311.1 L600.7,309.6 L598.0,308.2 L595.3,306.7 L592.6,305.3 L589.9,303.8 L587.2,302.3 L584.5,300.8 L581.7,299.3 L579.0,297.8 L576.3,296.3 L573.6,294.8 L570.9,293.2 L568.2,291.7 L565.5,290.1 L562.8,288.5 L560.1,286.9 L557.4,285.3 L554.6,283.7 L551.9,282.1 L549.2,280.4 L546.5,278.8 L543.8,277.1 L541.1,275.4 L538.4,273.7 L535.7,272.0 L533.0,270.3 L530.2,268.5 L527.5,266.8 L524.8,265.0 L522.1,263.2 L519.4,261.4 L516.7,259.6 L514.0,257.8 L511.3,256.0 L508.6,254.1 L505.9,252.3 L503.1,250.4 L500.4,248.5 L497.7,246.6 L495.0,244.6 L492.3,242.7 L489.6,240.7 L486.9,238.8 L484.2,236.8 L481.5,234.8 L478.7,232.7 L476.0,230.7 L473.3,228.6 L470.6,226.5 L467.9,224.4 L465.2,222.3 L462.5,220.2 L459.8,218.0 L457.1,215.9 L454.4,213.7 L451.6,211.5 L448.9,209.3 L446.2,207.0 L443.5,204.7 L440.8,202.5 L438.1,200.1 L435.4,197.8 L432.7,195.5 L430.0,193.1 L427.2,190.7 L424.5,188.3 L421.8,185.9 L419.1,183.4 L416.4,180.9 L413.7,178.4 L411.0,175.9 L408.3,173.4 L405.6,170.8 L402.9,168.2 L400.1,165.6 L397.4,162.9 L394.7,160.3 L392.0,157.6 L389.3,154.9 L386.6,152.1 L383.9,149.4 L381.2,146.6 L378.5,143.7 L375.8,140.9 L373.0,138.0 L370.3,135.1 L367.6,132.2 L364.9,129.2 L362.2,126.2 L359.5,123.2 L356.8,120.1 L354.1,117.1 L351.4,113.9 L348.6,110.8 L345.9,107.6 L343.2,104.4 L340.5,101.2 L337.8,97.9 L335.1,94.6 L332.4,91.2 L329.7,87.9 L327.0,84.5 L324.3,81.0 L321.5,77.5 L318.8,74.0 L316.1,70.5 L313.4,66.9 L310.7,63.2 L308.0,59.6 L305.3,55.8 L302.6,52.1 L299.9,48.3 L297.1,44.5 L294.4,40.6 L291.7,36.7 L289.0,32.7 L286.3,28.7 L283.6,24.6 L280.9,20.5 L278.2,16.4 L275.5,12.2 L272.8,8.0 L270.0,3.7 L267.3,-0.7 L264.6,-5.0 L261.9,-9.5 L259.2,-14.0 L256.5,-18.5 L253.8,-23.1 L251.1,-27.8 L248.4,-32.5 L245.6,-37.2 L242.9,-42.0 L240.2,-46.9 L237.5,-51.9 L234.8,-56.9 L232.1,-61.9 L229.4,-67.1 L226.7,-72.2 L224.0,-77.5 L221.3,-82.8 L218.5,-88.2 L215.8,-93.7 L213.1,-99.2 L210.4,-104.8 L207.7,-110.5 L205.0,-116.2 L202.3,-122.0 L199.6,-127.9 L196.9,-133.9 L194.1,-139.9 L191.4,-146.1 L188.7,-152.3 L186.0,-158.6 L183.3,-165.0 L180.6,-171.5 L177.9,-178.1 L175.2,-184.7 L172.5,-191.5 L169.8,-198.3 L167.0,-205.3 L164.3,-212.3 L161.6,-219.5 L158.9,-226.7 L156.2,-234.1 Z" fill="#7152bb"/>
</g>
<g fill="none" stroke="#000" stroke-width="1.9" stroke-linecap="round" clip-path="url(#lc)">
<path d="M156.2,480.6 L158.9,481.6 L161.6,482.5 L164.3,483.3 L167.0,484.2 L169.8,485.1 L172.5,486.0 L175.2,486.8 L177.9,487.7 L180.6,488.5 L183.3,489.4 L186.0,490.2 L188.7,491.0 L191.4,491.8 L194.1,492.6 L196.9,493.4 L199.6,494.2 L202.3,495.0 L205.0,495.7 L207.7,496.5 L210.4,497.2 L213.1,498.0 L215.8,498.7 L218.5,499.5 L221.3,500.2 L224.0,500.9 L226.7,501.6 L229.4,502.3 L232.1,503.0 L234.8,503.7 L237.5,504.4 L240.2,505.1 L242.9,505.7 L245.6,506.4 L248.4,507.0 L251.1,507.7 L253.8,508.3 L256.5,509.0 L259.2,509.6 L261.9,510.2 L264.6,510.9 L267.3,511.5 L270.0,512.1 L272.8,512.7 L275.5,513.3 L278.2,513.9 L280.9,514.5 L283.6,515.1 L286.3,515.7 L289.0,516.2 L291.7,516.8 L294.4,517.4 L297.1,517.9 L299.9,518.5 L302.6,519.0 L305.3,519.6 L308.0,520.1 L310.7,520.6 L313.4,521.2 L316.1,521.7 L318.8,522.2 L321.5,522.7 L324.3,523.3 L327.0,523.8 L329.7,524.3 L332.4,524.8 L335.1,525.3 L337.8,525.7 L340.5,526.2 L343.2,526.7 L345.9,527.2 L348.6,527.7 L351.4,528.1 L354.1,528.6 L356.8,529.1 L359.5,529.5 L362.2,530.0 L364.9,530.4 L367.6,530.9 L370.3,531.3 L373.0,531.8 L375.8,532.2 L378.5,532.6 L381.2,533.1 L383.9,533.5 L386.6,533.9 L389.3,534.3 L392.0,534.8 L394.7,535.2 L397.4,535.6 L400.1,536.0 L402.9,536.4 L405.6,536.8 L408.3,537.2 L411.0,537.6 L413.7,538.0 L416.4,538.4 L419.1,538.7 L421.8,539.1 L424.5,539.5 L427.2,539.9 L430.0,540.3 L432.7,540.6 L435.4,541.0 L438.1,541.4 L440.8,541.7 L443.5,542.1 L446.2,542.4 L448.9,542.8 L451.6,543.1 L454.4,543.5 L457.1,543.8 L459.8,544.2 L462.5,544.5 L465.2,544.9 L467.9,545.2 L470.6,545.5 L473.3,545.9 L476.0,546.2 L478.7,546.5 L481.5,546.8 L484.2,547.2 L486.9,547.5 L489.6,547.8 L492.3,548.1 L495.0,548.4 L497.7,548.7 L500.4,549.0 L503.1,549.3 L505.9,549.6 L508.6,549.9 L511.3,550.2 L514.0,550.5 L516.7,550.8 L519.4,551.1 L522.1,551.4 L524.8,551.7 L527.5,552.0 L530.2,552.3 L533.0,552.6 L535.7,552.8 L538.4,553.1 L541.1,553.4 L543.8,553.7 L546.5,553.9 L549.2,554.2 L551.9,554.5 L554.6,554.7 L557.4,555.0 L560.1,555.3 L562.8,555.5 L565.5,555.8 L568.2,556.1 L570.9,556.3 L573.6,556.6 L576.3,556.8 L579.0,557.1 L581.7,557.3 L584.5,557.6 L587.2,557.8 L589.9,558.1 L592.6,558.3 L595.3,558.5 L598.0,558.8 L600.7,559.0 L603.4,559.3 L606.1,559.5 L608.9,559.7 L611.6,560.0 L614.3,560.2 L617.0,560.4 L619.7,560.6 L622.4,560.9 L625.1,561.1 L627.8,561.3 L630.5,561.5 L633.2,561.8 L636.0,562.0 L638.7,562.2 L641.4,562.4 L644.1,562.6 L646.8,562.8 L649.5,563.1 L652.2,563.3 L654.9,563.5 L657.6,563.7 L660.4,563.9 L663.1,564.1 L665.8,564.3 L668.5,564.5 L671.2,564.7 L673.9,564.9 L676.6,565.1 L679.3,565.3 L682.0,565.5 L684.7,565.7 L687.5,565.9 L690.2,566.1 L692.9,566.3 L695.6,566.5 L698.3,566.7"/>
<path d="M156.2,396.3 L158.9,397.9 L161.6,399.4 L164.3,400.9 L167.0,402.3 L169.8,403.8 L172.5,405.3 L175.2,406.7 L177.9,408.1 L180.6,409.5 L183.3,410.9 L186.0,412.3 L188.7,413.7 L191.4,415.0 L194.1,416.3 L196.9,417.7 L199.6,419.0 L202.3,420.3 L205.0,421.5 L207.7,422.8 L210.4,424.1 L213.1,425.3 L215.8,426.5 L218.5,427.8 L221.3,429.0 L224.0,430.2 L226.7,431.3 L229.4,432.5 L232.1,433.7 L234.8,434.8 L237.5,435.9 L240.2,437.1 L242.9,438.2 L245.6,439.3 L248.4,440.4 L251.1,441.5 L253.8,442.5 L256.5,443.6 L259.2,444.6 L261.9,445.7 L264.6,446.7 L267.3,447.7 L270.0,448.8 L272.8,449.8 L275.5,450.8 L278.2,451.7 L280.9,452.7 L283.6,453.7 L286.3,454.6 L289.0,455.6 L291.7,456.5 L294.4,457.5 L297.1,458.4 L299.9,459.3 L302.6,460.2 L305.3,461.1 L308.0,462.0 L310.7,462.9 L313.4,463.8 L316.1,464.6 L318.8,465.5 L321.5,466.3 L324.3,467.2 L327.0,468.0 L329.7,468.9 L332.4,469.7 L335.1,470.5 L337.8,471.3 L340.5,472.1 L343.2,472.9 L345.9,473.7 L348.6,474.5 L351.4,475.2 L354.1,476.0 L356.8,476.8 L359.5,477.5 L362.2,478.3 L364.9,479.0 L367.6,479.8 L370.3,480.5 L373.0,481.2 L375.8,481.9 L378.5,482.6 L381.2,483.3 L383.9,484.0 L386.6,484.7 L389.3,485.4 L392.0,486.1 L394.7,486.8 L397.4,487.5 L400.1,488.1 L402.9,488.8 L405.6,489.5 L408.3,490.1 L411.0,490.8 L413.7,491.4 L416.4,492.0 L419.1,492.7 L421.8,493.3 L424.5,493.9 L427.2,494.5 L430.0,495.1 L432.7,495.7 L435.4,496.3 L438.1,496.9 L440.8,497.5 L443.5,498.1 L446.2,498.7 L448.9,499.3 L451.6,499.9 L454.4,500.4 L457.1,501.0 L459.8,501.6 L462.5,502.1 L465.2,502.7 L467.9,503.2 L470.6,503.8 L473.3,504.3 L476.0,504.8 L478.7,505.4 L481.5,505.9 L484.2,506.4 L486.9,507.0 L489.6,507.5 L492.3,508.0 L495.0,508.5 L497.7,509.0 L500.4,509.5 L503.1,510.0 L505.9,510.5 L508.6,511.0 L511.3,511.5 L514.0,512.0 L516.7,512.4 L519.4,512.9 L522.1,513.4 L524.8,513.9 L527.5,514.3 L530.2,514.8 L533.0,515.3 L535.7,515.7 L538.4,516.2 L541.1,516.6 L543.8,517.1 L546.5,517.5 L549.2,517.9 L551.9,518.4 L554.6,518.8 L557.4,519.3 L560.1,519.7 L562.8,520.1 L565.5,520.5 L568.2,521.0 L570.9,521.4 L573.6,521.8 L576.3,522.2 L579.0,522.6 L581.7,523.0 L584.5,523.4 L587.2,523.8 L589.9,524.2 L592.6,524.6 L595.3,525.0 L598.0,525.4 L600.7,525.8 L603.4,526.2 L606.1,526.6 L608.9,526.9 L611.6,527.3 L614.3,527.7 L617.0,528.1 L619.7,528.4 L622.4,528.8 L625.1,529.2 L627.8,529.5 L630.5,529.9 L633.2,530.2 L636.0,530.6 L638.7,531.0 L641.4,531.3 L644.1,531.7 L646.8,532.0 L649.5,532.3 L652.2,532.7 L654.9,533.0 L657.6,533.4 L660.4,533.7 L663.1,534.0 L665.8,534.4 L668.5,534.7 L671.2,535.0 L673.9,535.4 L676.6,535.7 L679.3,536.0 L682.0,536.3 L684.7,536.6 L687.5,536.9 L690.2,537.3 L692.9,537.6 L695.6,537.9 L698.3,538.2"/>
<path d="M156.2,244.1 L158.9,246.8 L161.6,249.5 L164.3,252.2 L167.0,254.8 L169.8,257.4 L172.5,260.0 L175.2,262.6 L177.9,265.1 L180.6,267.6 L183.3,270.0 L186.0,272.5 L188.7,274.9 L191.4,277.3 L194.1,279.6 L196.9,282.0 L199.6,284.3 L202.3,286.6 L205.0,288.8 L207.7,291.1 L210.4,293.3 L213.1,295.5 L215.8,297.6 L218.5,299.8 L221.3,301.9 L224.0,304.0 L226.7,306.0 L229.4,308.1 L232.1,310.1 L234.8,312.1 L237.5,314.1 L240.2,316.1 L242.9,318.1 L245.6,320.0 L248.4,321.9 L251.1,323.8 L253.8,325.7 L256.5,327.5 L259.2,329.3 L261.9,331.2 L264.6,333.0 L267.3,334.7 L270.0,336.5 L272.8,338.3 L275.5,340.0 L278.2,341.7 L280.9,343.4 L283.6,345.1 L286.3,346.7 L289.0,348.4 L291.7,350.0 L294.4,351.6 L297.1,353.2 L299.9,354.8 L302.6,356.4 L305.3,357.9 L308.0,359.5 L310.7,361.0 L313.4,362.5 L316.1,364.0 L318.8,365.5 L321.5,367.0 L324.3,368.4 L327.0,369.9 L329.7,371.3 L332.4,372.7 L335.1,374.2 L337.8,375.5 L340.5,376.9 L343.2,378.3 L345.9,379.7 L348.6,381.0 L351.4,382.3 L354.1,383.7 L356.8,385.0 L359.5,386.3 L362.2,387.6 L364.9,388.8 L367.6,390.1 L370.3,391.3 L373.0,392.6 L375.8,393.8 L378.5,395.0 L381.2,396.3 L383.9,397.5 L386.6,398.6 L389.3,399.8 L392.0,401.0 L394.7,402.2 L397.4,403.3 L400.1,404.5 L402.9,405.6 L405.6,406.7 L408.3,407.8 L411.0,408.9 L413.7,410.0 L416.4,411.1 L419.1,412.2 L421.8,413.3 L424.5,414.3 L427.2,415.4 L430.0,416.4 L432.7,417.4 L435.4,418.5 L438.1,419.5 L440.8,420.5 L443.5,421.5 L446.2,422.5 L448.9,423.5 L451.6,424.5 L454.4,425.4 L457.1,426.4 L459.8,427.4 L462.5,428.3 L465.2,429.2 L467.9,430.2 L470.6,431.1 L473.3,432.0 L476.0,432.9 L478.7,433.8 L481.5,434.7 L484.2,435.6 L486.9,436.5 L489.6,437.4 L492.3,438.3 L495.0,439.1 L497.7,440.0 L500.4,440.8 L503.1,441.7 L505.9,442.5 L508.6,443.3 L511.3,444.2 L514.0,445.0 L516.7,445.8 L519.4,446.6 L522.1,447.4 L524.8,448.2 L527.5,449.0 L530.2,449.8 L533.0,450.6 L535.7,451.3 L538.4,452.1 L541.1,452.9 L543.8,453.6 L546.5,454.4 L549.2,455.1 L551.9,455.9 L554.6,456.6 L557.4,457.3 L560.1,458.1 L562.8,458.8 L565.5,459.5 L568.2,460.2 L570.9,460.9 L573.6,461.6 L576.3,462.3 L579.0,463.0 L581.7,463.7 L584.5,464.4 L587.2,465.0 L589.9,465.7 L592.6,466.4 L595.3,467.0 L598.0,467.7 L600.7,468.3 L603.4,469.0 L606.1,469.6 L608.9,470.3 L611.6,470.9 L614.3,471.5 L617.0,472.2 L619.7,472.8 L622.4,473.4 L625.1,474.0 L627.8,474.6 L630.5,475.2 L633.2,475.9 L636.0,476.4 L638.7,477.0 L641.4,477.6 L644.1,478.2 L646.8,478.8 L649.5,479.4 L652.2,480.0 L654.9,480.5 L657.6,481.1 L660.4,481.7 L663.1,482.2 L665.8,482.8 L668.5,483.3 L671.2,483.9 L673.9,484.4 L676.6,485.0 L679.3,485.5 L682.0,486.0 L684.7,486.6 L687.5,487.1 L690.2,487.6 L692.9,488.2 L695.6,488.7 L698.3,489.2"/>
<path d="M156.2,116.2 L158.9,120.1 L161.6,123.9 L164.3,127.6 L167.0,131.3 L169.8,135.0 L172.5,138.6 L175.2,142.1 L177.9,145.7 L180.6,149.1 L183.3,152.6 L186.0,156.0 L188.7,159.3 L191.4,162.7 L194.1,165.9 L196.9,169.2 L199.6,172.4 L202.3,175.6 L205.0,178.7 L207.7,181.8 L210.4,184.9 L213.1,187.9 L215.8,190.9 L218.5,193.9 L221.3,196.8 L224.0,199.7 L226.7,202.6 L229.4,205.4 L232.1,208.2 L234.8,211.0 L237.5,213.7 L240.2,216.4 L242.9,219.1 L245.6,221.8 L248.4,224.4 L251.1,227.0 L253.8,229.6 L256.5,232.1 L259.2,234.7 L261.9,237.2 L264.6,239.6 L267.3,242.1 L270.0,244.5 L272.8,246.9 L275.5,249.3 L278.2,251.6 L280.9,253.9 L283.6,256.2 L286.3,258.5 L289.0,260.8 L291.7,263.0 L294.4,265.2 L297.1,267.4 L299.9,269.6 L302.6,271.7 L305.3,273.8 L308.0,275.9 L310.7,278.0 L313.4,280.1 L316.1,282.1 L318.8,284.2 L321.5,286.2 L324.3,288.1 L327.0,290.1 L329.7,292.1 L332.4,294.0 L335.1,295.9 L337.8,297.8 L340.5,299.7 L343.2,301.5 L345.9,303.4 L348.6,305.2 L351.4,307.0 L354.1,308.8 L356.8,310.6 L359.5,312.4 L362.2,314.1 L364.9,315.8 L367.6,317.6 L370.3,319.2 L373.0,320.9 L375.8,322.6 L378.5,324.3 L381.2,325.9 L383.9,327.5 L386.6,329.1 L389.3,330.7 L392.0,332.3 L394.7,333.9 L397.4,335.4 L400.1,337.0 L402.9,338.5 L405.6,340.0 L408.3,341.5 L411.0,343.0 L413.7,344.5 L416.4,346.0 L419.1,347.4 L421.8,348.9 L424.5,350.3 L427.2,351.7 L430.0,353.1 L432.7,354.5 L435.4,355.9 L438.1,357.3 L440.8,358.6 L443.5,360.0 L446.2,361.3 L448.9,362.6 L451.6,364.0 L454.4,365.3 L457.1,366.6 L459.8,367.8 L462.5,369.1 L465.2,370.4 L467.9,371.6 L470.6,372.9 L473.3,374.1 L476.0,375.3 L478.7,376.5 L481.5,377.8 L484.2,378.9 L486.9,380.1 L489.6,381.3 L492.3,382.5 L495.0,383.6 L497.7,384.8 L500.4,385.9 L503.1,387.1 L505.9,388.2 L508.6,389.3 L511.3,390.4 L514.0,391.5 L516.7,392.6 L519.4,393.7 L522.1,394.8 L524.8,395.8 L527.5,396.9 L530.2,397.9 L533.0,399.0 L535.7,400.0 L538.4,401.0 L541.1,402.1 L543.8,403.1 L546.5,404.1 L549.2,405.1 L551.9,406.1 L554.6,407.0 L557.4,408.0 L560.1,409.0 L562.8,409.9 L565.5,410.9 L568.2,411.8 L570.9,412.8 L573.6,413.7 L576.3,414.7 L579.0,415.6 L581.7,416.5 L584.5,417.4 L587.2,418.3 L589.9,419.2 L592.6,420.1 L595.3,421.0 L598.0,421.8 L600.7,422.7 L603.4,423.6 L606.1,424.4 L608.9,425.3 L611.6,426.1 L614.3,427.0 L617.0,427.8 L619.7,428.6 L622.4,429.5 L625.1,430.3 L627.8,431.1 L630.5,431.9 L633.2,432.7 L636.0,433.5 L638.7,434.3 L641.4,435.1 L644.1,435.9 L646.8,436.6 L649.5,437.4 L652.2,438.2 L654.9,438.9 L657.6,439.7 L660.4,440.4 L663.1,441.2 L665.8,441.9 L668.5,442.6 L671.2,443.4 L673.9,444.1 L676.6,444.8 L679.3,445.5 L682.0,446.3 L684.7,447.0 L687.5,447.7 L690.2,448.4 L692.9,449.1 L695.6,449.7 L698.3,450.4"/>
<path d="M156.2,5.1 L158.9,9.9 L161.6,14.8 L164.3,19.5 L167.0,24.2 L169.8,28.8 L172.5,33.4 L175.2,37.9 L177.9,42.3 L180.6,46.7 L183.3,51.1 L186.0,55.4 L188.7,59.6 L191.4,63.8 L194.1,67.9 L196.9,72.0 L199.6,76.1 L202.3,80.0 L205.0,84.0 L207.7,87.9 L210.4,91.7 L213.1,95.5 L215.8,99.3 L218.5,103.0 L221.3,106.7 L224.0,110.3 L226.7,113.9 L229.4,117.5 L232.1,121.0 L234.8,124.4 L237.5,127.9 L240.2,131.3 L242.9,134.6 L245.6,137.9 L248.4,141.2 L251.1,144.5 L253.8,147.7 L256.5,150.9 L259.2,154.0 L261.9,157.1 L264.6,160.2 L267.3,163.2 L270.0,166.2 L272.8,169.2 L275.5,172.2 L278.2,175.1 L280.9,178.0 L283.6,180.8 L286.3,183.6 L289.0,186.4 L291.7,189.2 L294.4,192.0 L297.1,194.7 L299.9,197.4 L302.6,200.0 L305.3,202.6 L308.0,205.2 L310.7,207.8 L313.4,210.4 L316.1,212.9 L318.8,215.4 L321.5,217.9 L324.3,220.3 L327.0,222.8 L329.7,225.2 L332.4,227.6 L335.1,229.9 L337.8,232.3 L340.5,234.6 L343.2,236.9 L345.9,239.2 L348.6,241.4 L351.4,243.6 L354.1,245.8 L356.8,248.0 L359.5,250.2 L362.2,252.3 L364.9,254.5 L367.6,256.6 L370.3,258.7 L373.0,260.7 L375.8,262.8 L378.5,264.8 L381.2,266.8 L383.9,268.8 L386.6,270.8 L389.3,272.8 L392.0,274.7 L394.7,276.6 L397.4,278.6 L400.1,280.4 L402.9,282.3 L405.6,284.2 L408.3,286.0 L411.0,287.9 L413.7,289.7 L416.4,291.5 L419.1,293.2 L421.8,295.0 L424.5,296.8 L427.2,298.5 L430.0,300.2 L432.7,301.9 L435.4,303.6 L438.1,305.3 L440.8,306.9 L443.5,308.6 L446.2,310.2 L448.9,311.8 L451.6,313.5 L454.4,315.1 L457.1,316.6 L459.8,318.2 L462.5,319.8 L465.2,321.3 L467.9,322.8 L470.6,324.3 L473.3,325.9 L476.0,327.3 L478.7,328.8 L481.5,330.3 L484.2,331.8 L486.9,333.2 L489.6,334.6 L492.3,336.1 L495.0,337.5 L497.7,338.9 L500.4,340.3 L503.1,341.6 L505.9,343.0 L508.6,344.4 L511.3,345.7 L514.0,347.1 L516.7,348.4 L519.4,349.7 L522.1,351.0 L524.8,352.3 L527.5,353.6 L530.2,354.9 L533.0,356.1 L535.7,357.4 L538.4,358.6 L541.1,359.9 L543.8,361.1 L546.5,362.3 L549.2,363.5 L551.9,364.7 L554.6,365.9 L557.4,367.1 L560.1,368.3 L562.8,369.5 L565.5,370.6 L568.2,371.8 L570.9,372.9 L573.6,374.1 L576.3,375.2 L579.0,376.3 L581.7,377.4 L584.5,378.5 L587.2,379.6 L589.9,380.7 L592.6,381.8 L595.3,382.8 L598.0,383.9 L600.7,384.9 L603.4,386.0 L606.1,387.0 L608.9,388.1 L611.6,389.1 L614.3,390.1 L617.0,391.1 L619.7,392.1 L622.4,393.1 L625.1,394.1 L627.8,395.1 L630.5,396.1 L633.2,397.0 L636.0,398.0 L638.7,399.0 L641.4,399.9 L644.1,400.9 L646.8,401.8 L649.5,402.7 L652.2,403.7 L654.9,404.6 L657.6,405.5 L660.4,406.4 L663.1,407.3 L665.8,408.2 L668.5,409.1 L671.2,410.0 L673.9,410.8 L676.6,411.7 L679.3,412.6 L682.0,413.4 L684.7,414.3 L687.5,415.1 L690.2,416.0 L692.9,416.8 L695.6,417.7 L698.3,418.5"/>
<path d="M156.2,-163.3 L158.9,-156.7 L161.6,-150.2 L164.3,-143.8 L167.0,-137.5 L169.8,-131.3 L172.5,-125.1 L175.2,-119.1 L177.9,-113.1 L180.6,-107.2 L183.3,-101.4 L186.0,-95.6 L188.7,-89.9 L191.4,-84.4 L194.1,-78.8 L196.9,-73.4 L199.6,-68.0 L202.3,-62.7 L205.0,-57.5 L207.7,-52.3 L210.4,-47.2 L213.1,-42.1 L215.8,-37.1 L218.5,-32.2 L221.3,-27.3 L224.0,-22.5 L226.7,-17.8 L229.4,-13.1 L232.1,-8.5 L234.8,-3.9 L237.5,0.6 L240.2,5.1 L242.9,9.5 L245.6,13.9 L248.4,18.2 L251.1,22.5 L253.8,26.7 L256.5,30.8 L259.2,35.0 L261.9,39.0 L264.6,43.1 L267.3,47.0 L270.0,51.0 L272.8,54.9 L275.5,58.7 L278.2,62.5 L280.9,66.3 L283.6,70.0 L286.3,73.7 L289.0,77.3 L291.7,80.9 L294.4,84.5 L297.1,88.0 L299.9,91.5 L302.6,95.0 L305.3,98.4 L308.0,101.8 L310.7,105.1 L313.4,108.4 L316.1,111.7 L318.8,114.9 L321.5,118.2 L324.3,121.3 L327.0,124.5 L329.7,127.6 L332.4,130.7 L335.1,133.7 L337.8,136.7 L340.5,139.7 L343.2,142.7 L345.9,145.6 L348.6,148.5 L351.4,151.4 L354.1,154.2 L356.8,157.0 L359.5,159.8 L362.2,162.6 L364.9,165.3 L367.6,168.0 L370.3,170.7 L373.0,173.4 L375.8,176.0 L378.5,178.6 L381.2,181.2 L383.9,183.8 L386.6,186.3 L389.3,188.8 L392.0,191.3 L394.7,193.8 L397.4,196.2 L400.1,198.6 L402.9,201.0 L405.6,203.4 L408.3,205.8 L411.0,208.1 L413.7,210.4 L416.4,212.7 L419.1,215.0 L421.8,217.2 L424.5,219.5 L427.2,221.7 L430.0,223.9 L432.7,226.0 L435.4,228.2 L438.1,230.3 L440.8,232.4 L443.5,234.5 L446.2,236.6 L448.9,238.7 L451.6,240.7 L454.4,242.8 L457.1,244.8 L459.8,246.8 L462.5,248.7 L465.2,250.7 L467.9,252.6 L470.6,254.6 L473.3,256.5 L476.0,258.4 L478.7,260.3 L481.5,262.1 L484.2,264.0 L486.9,265.8 L489.6,267.6 L492.3,269.4 L495.0,271.2 L497.7,273.0 L500.4,274.7 L503.1,276.5 L505.9,278.2 L508.6,279.9 L511.3,281.7 L514.0,283.3 L516.7,285.0 L519.4,286.7 L522.1,288.3 L524.8,290.0 L527.5,291.6 L530.2,293.2 L533.0,294.8 L535.7,296.4 L538.4,298.0 L541.1,299.5 L543.8,301.1 L546.5,302.6 L549.2,304.2 L551.9,305.7 L554.6,307.2 L557.4,308.7 L560.1,310.2 L562.8,311.6 L565.5,313.1 L568.2,314.5 L570.9,316.0 L573.6,317.4 L576.3,318.8 L579.0,320.2 L581.7,321.6 L584.5,323.0 L587.2,324.4 L589.9,325.7 L592.6,327.1 L595.3,328.4 L598.0,329.8 L600.7,331.1 L603.4,332.4 L606.1,333.7 L608.9,335.0 L611.6,336.3 L614.3,337.6 L617.0,338.9 L619.7,340.1 L622.4,341.4 L625.1,342.6 L627.8,343.9 L630.5,345.1 L633.2,346.3 L636.0,347.5 L638.7,348.7 L641.4,349.9 L644.1,351.1 L646.8,352.3 L649.5,353.4 L652.2,354.6 L654.9,355.7 L657.6,356.9 L660.4,358.0 L663.1,359.1 L665.8,360.3 L668.5,361.4 L671.2,362.5 L673.9,363.6 L676.6,364.7 L679.3,365.7 L682.0,366.8 L684.7,367.9 L687.5,368.9 L690.2,370.0 L692.9,371.0 L695.6,372.1 L698.3,373.1"/>
<path d="M156.2,-234.1 L158.9,-226.7 L161.6,-219.5 L164.3,-212.3 L167.0,-205.3 L169.8,-198.3 L172.5,-191.5 L175.2,-184.7 L177.9,-178.1 L180.6,-171.5 L183.3,-165.0 L186.0,-158.6 L188.7,-152.3 L191.4,-146.1 L194.1,-139.9 L196.9,-133.9 L199.6,-127.9 L202.3,-122.0 L205.0,-116.2 L207.7,-110.5 L210.4,-104.8 L213.1,-99.2 L215.8,-93.7 L218.5,-88.2 L221.3,-82.8 L224.0,-77.5 L226.7,-72.2 L229.4,-67.1 L232.1,-61.9 L234.8,-56.9 L237.5,-51.9 L240.2,-46.9 L242.9,-42.0 L245.6,-37.2 L248.4,-32.5 L251.1,-27.8 L253.8,-23.1 L256.5,-18.5 L259.2,-14.0 L261.9,-9.5 L264.6,-5.0 L267.3,-0.7 L270.0,3.7 L272.8,8.0 L275.5,12.2 L278.2,16.4 L280.9,20.5 L283.6,24.6 L286.3,28.7 L289.0,32.7 L291.7,36.7 L294.4,40.6 L297.1,44.5 L299.9,48.3 L302.6,52.1 L305.3,55.8 L308.0,59.6 L310.7,63.2 L313.4,66.9 L316.1,70.5 L318.8,74.0 L321.5,77.5 L324.3,81.0 L327.0,84.5 L329.7,87.9 L332.4,91.2 L335.1,94.6 L337.8,97.9 L340.5,101.2 L343.2,104.4 L345.9,107.6 L348.6,110.8 L351.4,113.9 L354.1,117.1 L356.8,120.1 L359.5,123.2 L362.2,126.2 L364.9,129.2 L367.6,132.2 L370.3,135.1 L373.0,138.0 L375.8,140.9 L378.5,143.7 L381.2,146.6 L383.9,149.4 L386.6,152.1 L389.3,154.9 L392.0,157.6 L394.7,160.3 L397.4,162.9 L400.1,165.6 L402.9,168.2 L405.6,170.8 L408.3,173.4 L411.0,175.9 L413.7,178.4 L416.4,180.9 L419.1,183.4 L421.8,185.9 L424.5,188.3 L427.2,190.7 L430.0,193.1 L432.7,195.5 L435.4,197.8 L438.1,200.1 L440.8,202.5 L443.5,204.7 L446.2,207.0 L448.9,209.3 L451.6,211.5 L454.4,213.7 L457.1,215.9 L459.8,218.0 L462.5,220.2 L465.2,222.3 L467.9,224.4 L470.6,226.5 L473.3,228.6 L476.0,230.7 L478.7,232.7 L481.5,234.8 L484.2,236.8 L486.9,238.8 L489.6,240.7 L492.3,242.7 L495.0,244.6 L497.7,246.6 L500.4,248.5 L503.1,250.4 L505.9,252.3 L508.6,254.1 L511.3,256.0 L514.0,257.8 L516.7,259.6 L519.4,261.4 L522.1,263.2 L524.8,265.0 L527.5,266.8 L530.2,268.5 L533.0,270.3 L535.7,272.0 L538.4,273.7 L541.1,275.4 L543.8,277.1 L546.5,278.8 L549.2,280.4 L551.9,282.1 L554.6,283.7 L557.4,285.3 L560.1,286.9 L562.8,288.5 L565.5,290.1 L568.2,291.7 L570.9,293.2 L573.6,294.8 L576.3,296.3 L579.0,297.8 L581.7,299.3 L584.5,300.8 L587.2,302.3 L589.9,303.8 L592.6,305.3 L595.3,306.7 L598.0,308.2 L600.7,309.6 L603.4,311.1 L606.1,312.5 L608.9,313.9 L611.6,315.3 L614.3,316.7 L617.0,318.0 L619.7,319.4 L622.4,320.8 L625.1,322.1 L627.8,323.4 L630.5,324.8 L633.2,326.1 L636.0,327.4 L638.7,328.7 L641.4,330.0 L644.1,331.3 L646.8,332.5 L649.5,333.8 L652.2,335.0 L654.9,336.3 L657.6,337.5 L660.4,338.8 L663.1,340.0 L665.8,341.2 L668.5,342.4 L671.2,343.6 L673.9,344.8 L676.6,346.0 L679.3,347.1 L682.0,348.3 L684.7,349.4 L687.5,350.6 L690.2,351.7 L692.9,352.9 L695.6,354.0 L698.3,355.1"/>
</g>
<rect x="144.6" y="40.5" width="564.9" height="565.2" fill="none" stroke="#3a3a3a" stroke-width="1.15"/>
<path d="M156.20,605.7 v-5.2 M156.20,40.5 v5.2 M183.30,605.7 v-5.2 M183.30,40.5 v5.2 M210.41,605.7 v-8.6 M210.41,40.5 v8.6 M237.51,605.7 v-5.2 M237.51,40.5 v5.2 M264.62,605.7 v-5.2 M264.62,40.5 v5.2 M291.72,605.7 v-5.2 M291.72,40.5 v5.2 M318.83,605.7 v-8.6 M318.83,40.5 v8.6 M345.93,605.7 v-5.2 M345.93,40.5 v5.2 M373.04,605.7 v-5.2 M373.04,40.5 v5.2 M400.14,605.7 v-5.2 M400.14,40.5 v5.2 M427.25,605.7 v-8.6 M427.25,40.5 v8.6 M454.35,605.7 v-5.2 M454.35,40.5 v5.2 M481.46,605.7 v-5.2 M481.46,40.5 v5.2 M508.56,605.7 v-5.2 M508.56,40.5 v5.2 M535.67,605.7 v-8.6 M535.67,40.5 v8.6 M562.77,605.7 v-5.2 M562.77,40.5 v5.2 M589.88,605.7 v-5.2 M589.88,40.5 v5.2 M616.98,605.7 v-5.2 M616.98,40.5 v5.2 M644.09,605.7 v-8.6 M644.09,40.5 v8.6 M671.19,605.7 v-5.2 M671.19,40.5 v5.2 M698.30,605.7 v-5.2 M698.30,40.5 v5.2 M144.6,594.60 h5.4 M709.5,594.60 h-5.4 M144.6,575.89 h5.4 M709.5,575.89 h-5.4 M144.6,557.18 h5.4 M709.5,557.18 h-5.4 M144.6,538.47 h5.4 M709.5,538.47 h-5.4 M144.6,519.76 h8.8 M709.5,519.76 h-8.8 M144.6,501.05 h5.4 M709.5,501.05 h-5.4 M144.6,482.34 h5.4 M709.5,482.34 h-5.4 M144.6,463.63 h5.4 M709.5,463.63 h-5.4 M144.6,444.92 h5.4 M709.5,444.92 h-5.4 M144.6,426.21 h8.8 M709.5,426.21 h-8.8 M144.6,407.50 h5.4 M709.5,407.50 h-5.4 M144.6,388.79 h5.4 M709.5,388.79 h-5.4 M144.6,370.08 h5.4 M709.5,370.08 h-5.4 M144.6,351.37 h5.4 M709.5,351.37 h-5.4 M144.6,332.66 h8.8 M709.5,332.66 h-8.8 M144.6,313.94 h5.4 M709.5,313.94 h-5.4 M144.6,295.23 h5.4 M709.5,295.23 h-5.4 M144.6,276.52 h5.4 M709.5,276.52 h-5.4 M144.6,257.81 h5.4 M709.5,257.81 h-5.4 M144.6,239.10 h8.8 M709.5,239.10 h-8.8 M144.6,220.39 h5.4 M709.5,220.39 h-5.4 M144.6,201.68 h5.4 M709.5,201.68 h-5.4 M144.6,182.97 h5.4 M709.5,182.97 h-5.4 M144.6,164.26 h5.4 M709.5,164.26 h-5.4 M144.6,145.55 h8.8 M709.5,145.55 h-8.8 M144.6,126.84 h5.4 M709.5,126.84 h-5.4 M144.6,108.13 h5.4 M709.5,108.13 h-5.4 M144.6,89.42 h5.4 M709.5,89.42 h-5.4 M144.6,70.71 h5.4 M709.5,70.71 h-5.4 M144.6,52.00 h8.8 M709.5,52.00 h-8.8" fill="none" stroke="#333" stroke-width="1.05"/>
<g font-size="30.5" fill="#000">
<text x="210.9" y="643.5" text-anchor="middle">1600</text>
<text x="319.3" y="643.5" text-anchor="middle">1800</text>
<text x="427.7" y="643.5" text-anchor="middle">2000</text>
<text x="536.2" y="643.5" text-anchor="middle">2200</text>
<text x="644.6" y="643.5" text-anchor="middle">2400</text>
<text x="135.2" y="530.7" text-anchor="end">1.05</text>
<text x="135.2" y="437.1" text-anchor="end">1.10</text>
<text x="135.2" y="343.6" text-anchor="end">1.15</text>
<text x="135.2" y="250.0" text-anchor="end">1.20</text>
<text x="135.2" y="156.5" text-anchor="end">1.25</text>
<text x="135.2" y="62.9" text-anchor="end">1.30</text>
</g>
<g font-size="32.6" fill="#000">
<text x="212.9" y="512.5" letter-spacing="0.1">50</text>
<text x="362.1" y="493.0" letter-spacing="0.1">50</text>
<text x="472.1" y="444.9" letter-spacing="0">0</text>
<text x="627.7" y="443.4" letter-spacing="-0.9">50</text>
<rect x="610.9" y="434.30" width="15.6" height="1.6"/>
<text x="654.7" y="418.7" letter-spacing="-0.9">100</text>
<rect x="637.0" y="410.00" width="15.7" height="1.6"/>
<text x="283.0" y="96.4" letter-spacing="-1.45">200</text>
<rect x="265.3" y="87.10" width="15.5" height="1.6"/>
<text x="350.1" y="137.9" letter-spacing="-0.55">300</text>
<rect x="333.3" y="128.80" width="15.1" height="1.6"/>
</g>
<g fill="#1a1a1a" stroke="#fff" stroke-width="0.7" stroke-linejoin="round">
<text transform="translate(319.4228704860238,698.9751898734177) scale(1.04296944218438,1)" font-size="51.63723625241422" font-style="italic" stroke-width="0.7">M</text>
<text transform="translate(364.4192258146318,706.5151898734174) scale(1.2221016887404228,1)" font-size="33.94782138953275" font-style="italic" stroke-width="0.35">Z</text>
<text transform="translate(431.09151113622124,699.4521611721613) scale(0.9323178507558949,1)" font-size="53.44748875589634" font-style="normal" stroke-width="0.55">G</text>
<text transform="translate(466.9332424839096,699.3438837423098) scale(1.0253780482721058,1)" font-size="49.35408717021278" font-style="normal" stroke-width="0.6">e</text>
<text transform="translate(489.1948806366047,700.0) scale(0.9386453395879212,1)" font-size="52.2" font-style="normal" stroke-width="0.7">V</text>
<g transform="rotate(-90)">
<text transform="translate(-382.4758472031351,57.8) scale(1.0420630197877312,1)" font-size="53.98189151974163" font-style="normal" stroke-width="0.6">t</text>
<text transform="translate(-365.7588137922581,58.0) scale(1.1442069409938838,1)" font-size="49.2" font-style="normal" stroke-width="0.6">a</text>
<text transform="translate(-341.2469997503951,58.36095238095237) scale(1.1436356928114801,1)" font-size="48.3" font-style="normal" stroke-width="0.6">n</text>
</g>
</g>
<g fill="#1a1a1a">
<path d="M422.6,662.1 h6.5 v1.3 h-4.4 v46.4 h4.4 v1.3 h-6.5 Z"/>
<path d="M532.0,662.3 h-6.5 v1.3 h4.4 v46.0 h-4.4 v1.3 h6.5 Z"/>
<path d="M393.47,683.36 L394.81,682.89 L396.28,683.90 L396.48,685.04 L391.46,695.95 L389.99,695.54 Z"/>
<g transform="translate(10,260) scale(0.09372)">
<g fill="none" stroke="#1a1a1a" stroke-width="8.5" stroke-linecap="round">
<path d="M605,473 L300,393 C215,370 150,325 142,268 C137,228 168,204 208,204"/>
<path d="M270,226 C290,240 296,262 296,285"/>
<path d="M296,278 C300,250 330,232 372,226"/>
<path d="M480,285 C505,320 515,365 500,405 C488,432 455,440 425,428"/>
<path d="M296,280 L296,338" stroke-width="17"/>
</g>
<path d="M158,225 C175,198 230,188 262,213 C280,228 292,250 296,275 C285,250 262,232 235,224 C205,216 178,218 158,225 Z"/>
<path d="M298,272 C305,238 350,213 400,220 C450,228 490,268 505,322 C485,287 450,260 410,252 C365,245 325,254 298,272 Z"/>
<path d="M133,87 L150,82 L304,151 L299,166 L145,122 L128,111 Z"/>

</g>
</g>
</svg>
</body></html>
